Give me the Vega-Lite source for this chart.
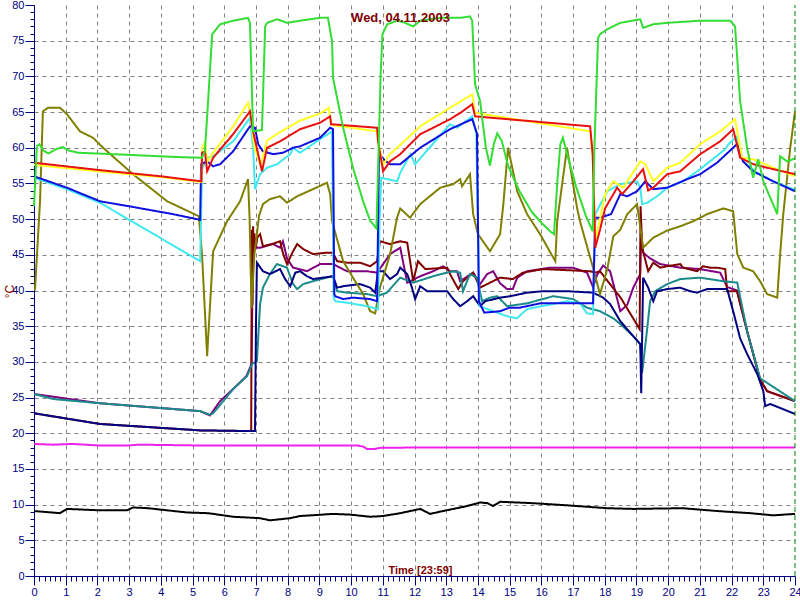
{
  "$schema": "https://vega.github.io/schema/vega-lite/v6.json",
  "width": 761,
  "height": 571,
  "autosize": "none",
  "padding": {"left": 34, "top": 5, "right": 5, "bottom": 24},
  "background": "white",
  "config": {"view": {"stroke": null}, "font": "Liberation Sans"},
  "title": {"text": "Wed, 04.11.2003", "color": "#800000", "fontSize": 13, "fontWeight": "bold", "font": "Liberation Sans", "offset": -26, "dx": -14, "anchor": "middle", "frame": "group"},
  "data": {"values": [
        {"s":"black","t":0,"v":9.1},{"s":"black","t":0.82,"v":8.8},{"s":"black","t":1.04,"v":9.4},{"s":"black","t":2.08,"v":9.2},{"s":"black","t":2.93,"v":9.2},{"s":"black","t":3.12,"v":9.6},{"s":"black","t":3.6,"v":9.5},{"s":"black","t":4.2,"v":9.2},{"s":"black","t":4.83,"v":8.9},{"s":"black","t":5.5,"v":8.8},{"s":"black","t":6.28,"v":8.3},{"s":"black","t":7.13,"v":8.1},{"s":"black","t":7.44,"v":7.8},{"s":"black","t":8.08,"v":8.1},{"s":"black","t":8.39,"v":8.4},{"s":"black","t":9.43,"v":8.7},{"s":"black","t":9.97,"v":8.6},{"s":"black","t":10.6,"v":8.3},{"s":"black","t":11.0,"v":8.4},{"s":"black","t":11.55,"v":8.8},{"s":"black","t":12.18,"v":9.4},{"s":"black","t":12.49,"v":8.7},{"s":"black","t":12.9,"v":9.1},{"s":"black","t":13.66,"v":9.8},{"s":"black","t":14.07,"v":10.3},{"s":"black","t":14.3,"v":10.2},{"s":"black","t":14.48,"v":9.8},{"s":"black","t":14.7,"v":10.4},{"s":"black","t":15.74,"v":10.2},{"s":"black","t":16.81,"v":9.9},{"s":"black","t":18.08,"v":9.5},{"s":"black","t":18.9,"v":9.4},{"s":"black","t":20.47,"v":9.5},{"s":"black","t":21.55,"v":9.1},{"s":"black","t":22.59,"v":8.8},{"s":"black","t":23.31,"v":8.5},{"s":"black","t":24,"v":8.7},

        {"s":"magenta","t":0,"v":18.5},{"s":"magenta","t":0.6,"v":18.4},{"s":"magenta","t":1.2,"v":18.5},{"s":"magenta","t":2,"v":18.3},{"s":"magenta","t":3,"v":18.3},{"s":"magenta","t":3.3,"v":18.4},{"s":"magenta","t":5,"v":18.3},{"s":"magenta","t":10.2,"v":18.3},{"s":"magenta","t":10.4,"v":18.1},{"s":"magenta","t":10.5,"v":17.8},{"s":"magenta","t":10.75,"v":17.8},{"s":"magenta","t":10.9,"v":17.95},{"s":"magenta","t":12,"v":18},{"s":"magenta","t":24,"v":18},

        {"s":"purple","t":0,"v":25.5},{"s":"purple","t":2.08,"v":24.2},{"s":"purple","t":5.24,"v":23.1},{"s":"purple","t":5.55,"v":22.5},{"s":"purple","t":5.87,"v":24.5},{"s":"purple","t":6.28,"v":26.2},{"s":"purple","t":6.7,"v":28},{"s":"purple","t":6.86,"v":29.7},{"s":"purple","t":6.9,"v":44},{"s":"purple","t":6.93,"v":47},{"s":"purple","t":7.03,"v":46},{"s":"purple","t":7.13,"v":46},{"s":"purple","t":7.54,"v":46.5},{"s":"purple","t":7.76,"v":46},{"s":"purple","t":7.85,"v":46.9},{"s":"purple","t":7.98,"v":44.5},{"s":"purple","t":8.17,"v":43.2},{"s":"purple","t":8.61,"v":42.7},{"s":"purple","t":9.02,"v":43.7},{"s":"purple","t":9.43,"v":43.7},{"s":"purple","t":9.65,"v":43.2},{"s":"purple","t":9.87,"v":42.7},{"s":"purple","t":10.5,"v":42.7},{"s":"purple","t":10.82,"v":42.5},{"s":"purple","t":11.01,"v":43.7},{"s":"purple","t":11.23,"v":45.1},{"s":"purple","t":11.55,"v":46},{"s":"purple","t":11.77,"v":41.1},{"s":"purple","t":12.18,"v":42},{"s":"purple","t":12.59,"v":42.7},{"s":"purple","t":12.9,"v":43.4},{"s":"purple","t":13.12,"v":42.7},{"s":"purple","t":13.34,"v":42.7},{"s":"purple","t":13.44,"v":41.3},{"s":"purple","t":13.85,"v":42.5},{"s":"purple","t":14.07,"v":40.9},{"s":"purple","t":14.29,"v":42.3},{"s":"purple","t":14.48,"v":42.7},{"s":"purple","t":14.7,"v":41},{"s":"purple","t":14.92,"v":40.2},{"s":"purple","t":15.1,"v":40.2},{"s":"purple","t":15.24,"v":41.8},{"s":"purple","t":15.55,"v":42.7},{"s":"purple","t":16.28,"v":43.2},{"s":"purple","t":17.0,"v":43.2},{"s":"purple","t":17.44,"v":42.5},{"s":"purple","t":17.63,"v":40.5},{"s":"purple","t":17.76,"v":42.2},{"s":"purple","t":17.95,"v":43.5},{"s":"purple","t":18.17,"v":42.7},{"s":"purple","t":18.49,"v":37.1},{"s":"purple","t":18.71,"v":38},{"s":"purple","t":18.9,"v":40.4},{"s":"purple","t":19.12,"v":42.3},{"s":"purple","t":19.15,"v":48},{"s":"purple","t":19.21,"v":45.3},{"s":"purple","t":19.43,"v":44.5},{"s":"purple","t":19.75,"v":43.7},{"s":"purple","t":20.38,"v":43.2},{"s":"purple","t":21.0,"v":43},{"s":"purple","t":21.64,"v":42.5},{"s":"purple","t":21.86,"v":40.5},{"s":"purple","t":22.17,"v":40},{"s":"purple","t":22.49,"v":34.3},{"s":"purple","t":22.9,"v":27.5},{"s":"purple","t":23.12,"v":25.9},{"s":"purple","t":24,"v":24.5},

        {"s":"maroon","t":0,"v":22.8},{"s":"maroon","t":2.08,"v":21.3},{"s":"maroon","t":5.24,"v":20.4},{"s":"maroon","t":6.85,"v":20.3},{"s":"maroon","t":6.87,"v":48.5},{"s":"maroon","t":6.89,"v":38},{"s":"maroon","t":6.91,"v":49},{"s":"maroon","t":6.93,"v":44},{"s":"maroon","t":6.95,"v":48},{"s":"maroon","t":6.99,"v":46},{"s":"maroon","t":7.05,"v":47.5},{"s":"maroon","t":7.13,"v":47.9},{"s":"maroon","t":7.22,"v":46.2},{"s":"maroon","t":7.5,"v":46.5},{"s":"maroon","t":7.76,"v":46.9},{"s":"maroon","t":7.86,"v":45.1},{"s":"maroon","t":7.98,"v":43.7},{"s":"maroon","t":8.17,"v":45.5},{"s":"maroon","t":8.3,"v":46.5},{"s":"maroon","t":8.49,"v":45.8},{"s":"maroon","t":8.8,"v":45.1},{"s":"maroon","t":9.24,"v":45.3},{"s":"maroon","t":9.43,"v":45.3},{"s":"maroon","t":9.56,"v":44.1},{"s":"maroon","t":9.87,"v":43.9},{"s":"maroon","t":10.28,"v":43.9},{"s":"maroon","t":10.6,"v":43.4},{"s":"maroon","t":10.82,"v":44.1},{"s":"maroon","t":10.91,"v":46.9},{"s":"maroon","t":11.23,"v":46.5},{"s":"maroon","t":11.55,"v":46.9},{"s":"maroon","t":11.77,"v":46.7},{"s":"maroon","t":11.96,"v":41.3},{"s":"maroon","t":12.11,"v":44.1},{"s":"maroon","t":12.34,"v":43},{"s":"maroon","t":13.03,"v":43.2},{"s":"maroon","t":13.12,"v":42.3},{"s":"maroon","t":13.38,"v":40.2},{"s":"maroon","t":13.53,"v":41.3},{"s":"maroon","t":13.85,"v":42.5},{"s":"maroon","t":14.07,"v":40.4},{"s":"maroon","t":14.7,"v":41.8},{"s":"maroon","t":15.1,"v":41.6},{"s":"maroon","t":15.42,"v":42.5},{"s":"maroon","t":16.06,"v":43},{"s":"maroon","t":17.54,"v":42.7},{"s":"maroon","t":17.7,"v":42.5},{"s":"maroon","t":17.85,"v":42.7},{"s":"maroon","t":18.5,"v":39},{"s":"maroon","t":19.1,"v":34.6},{"s":"maroon","t":19.13,"v":51.8},{"s":"maroon","t":19.18,"v":46},{"s":"maroon","t":19.37,"v":42.7},{"s":"maroon","t":19.53,"v":43.9},{"s":"maroon","t":19.75,"v":43.2},{"s":"maroon","t":19.97,"v":43.4},{"s":"maroon","t":20.38,"v":43.7},{"s":"maroon","t":20.47,"v":43.2},{"s":"maroon","t":20.91,"v":42.7},{"s":"maroon","t":21.1,"v":43.4},{"s":"maroon","t":21.33,"v":43.2},{"s":"maroon","t":21.54,"v":43.2},{"s":"maroon","t":21.8,"v":43},{"s":"maroon","t":21.86,"v":39.9},{"s":"maroon","t":22.17,"v":39.9},{"s":"maroon","t":22.49,"v":34.3},{"s":"maroon","t":22.9,"v":27.5},{"s":"maroon","t":23.12,"v":25.9},{"s":"maroon","t":24,"v":24.5},

        {"s":"teal","t":0,"v":25.5},{"s":"teal","t":0.6,"v":24.8},{"s":"teal","t":2.08,"v":24.2},{"s":"teal","t":5.24,"v":23.1},{"s":"teal","t":5.55,"v":22.6},{"s":"teal","t":5.65,"v":22.8},{"s":"teal","t":5.97,"v":24.5},{"s":"teal","t":6.28,"v":26.2},{"s":"teal","t":6.72,"v":28},{"s":"teal","t":6.88,"v":29.7},{"s":"teal","t":7.03,"v":30.1},{"s":"teal","t":7.13,"v":38.1},{"s":"teal","t":7.22,"v":40.4},{"s":"teal","t":7.44,"v":42.3},{"s":"teal","t":7.66,"v":43.7},{"s":"teal","t":7.85,"v":43.4},{"s":"teal","t":7.98,"v":43.2},{"s":"teal","t":8.17,"v":40.9},{"s":"teal","t":8.3,"v":40.2},{"s":"teal","t":8.49,"v":40.9},{"s":"teal","t":8.8,"v":41.3},{"s":"teal","t":9.24,"v":41.8},{"s":"teal","t":9.43,"v":42},{"s":"teal","t":9.56,"v":39.9},{"s":"teal","t":9.87,"v":39.7},{"s":"teal","t":10.5,"v":39.5},{"s":"teal","t":10.82,"v":39.2},{"s":"teal","t":11.13,"v":39.7},{"s":"teal","t":11.55,"v":41.8},{"s":"teal","t":11.96,"v":41.1},{"s":"teal","t":12.59,"v":42},{"s":"teal","t":13.03,"v":42.5},{"s":"teal","t":13.22,"v":42.7},{"s":"teal","t":13.44,"v":42.5},{"s":"teal","t":13.53,"v":39.9},{"s":"teal","t":13.75,"v":42.3},{"s":"teal","t":13.97,"v":41.8},{"s":"teal","t":14.13,"v":38.5},{"s":"teal","t":14.38,"v":39},{"s":"teal","t":14.61,"v":39.2},{"s":"teal","t":14.92,"v":37.8},{"s":"teal","t":15.55,"v":38.2},{"s":"teal","t":16.37,"v":39.2},{"s":"teal","t":17.0,"v":38.8},{"s":"teal","t":17.44,"v":37.6},{"s":"teal","t":17.85,"v":37.1},{"s":"teal","t":18.27,"v":36.1},{"s":"teal","t":18.49,"v":35.3},{"s":"teal","t":18.9,"v":33.6},{"s":"teal","t":19.12,"v":32.5},{"s":"teal","t":19.18,"v":28.5},{"s":"teal","t":19.34,"v":34.7},{"s":"teal","t":19.43,"v":38.5},{"s":"teal","t":19.59,"v":39.9},{"s":"teal","t":19.97,"v":40.9},{"s":"teal","t":20.38,"v":41.6},{"s":"teal","t":21.01,"v":41.8},{"s":"teal","t":21.74,"v":41.3},{"s":"teal","t":22.18,"v":41.1},{"s":"teal","t":22.49,"v":34.3},{"s":"teal","t":22.9,"v":27.7},{"s":"teal","t":24,"v":24.5},

        {"s":"navy","t":0,"v":22.8},{"s":"navy","t":2.08,"v":21.3},{"s":"navy","t":5.24,"v":20.4},{"s":"navy","t":6.97,"v":20.3},{"s":"navy","t":7.0,"v":35},{"s":"navy","t":7.03,"v":43.9},{"s":"navy","t":7.22,"v":42.7},{"s":"navy","t":7.44,"v":42.3},{"s":"navy","t":7.76,"v":43},{"s":"navy","t":7.92,"v":41.6},{"s":"navy","t":8.08,"v":40.6},{"s":"navy","t":8.24,"v":42.5},{"s":"navy","t":8.39,"v":42.7},{"s":"navy","t":8.61,"v":42},{"s":"navy","t":8.8,"v":41.6},{"s":"navy","t":9.43,"v":42},{"s":"navy","t":9.56,"v":40.4},{"s":"navy","t":9.75,"v":40.6},{"s":"navy","t":10.28,"v":40.9},{"s":"navy","t":10.6,"v":40.4},{"s":"navy","t":10.76,"v":39.7},{"s":"navy","t":10.85,"v":42.7},{"s":"navy","t":11.01,"v":42.7},{"s":"navy","t":11.23,"v":41.6},{"s":"navy","t":11.45,"v":42.3},{"s":"navy","t":11.55,"v":43.2},{"s":"navy","t":11.77,"v":42.3},{"s":"navy","t":11.92,"v":40.4},{"s":"navy","t":12.02,"v":38.8},{"s":"navy","t":12.18,"v":40.6},{"s":"navy","t":12.4,"v":39.9},{"s":"navy","t":13.03,"v":39.9},{"s":"navy","t":13.22,"v":38.8},{"s":"navy","t":13.44,"v":37.8},{"s":"navy","t":13.66,"v":38.5},{"s":"navy","t":13.85,"v":39.2},{"s":"navy","t":14.07,"v":37.8},{"s":"navy","t":14.23,"v":38.5},{"s":"navy","t":14.7,"v":39},{"s":"navy","t":15.02,"v":39.2},{"s":"navy","t":15.55,"v":39.7},{"s":"navy","t":16.06,"v":39.9},{"s":"navy","t":16.81,"v":39.9},{"s":"navy","t":17.63,"v":39.7},{"s":"navy","t":17.95,"v":39},{"s":"navy","t":18.17,"v":38.1},{"s":"navy","t":18.49,"v":35.7},{"s":"navy","t":18.9,"v":33.6},{"s":"navy","t":19.12,"v":32.5},{"s":"navy","t":19.15,"v":25.6},{"s":"navy","t":19.21,"v":41.8},{"s":"navy","t":19.37,"v":40.4},{"s":"navy","t":19.53,"v":38.5},{"s":"navy","t":19.65,"v":39.9},{"s":"navy","t":19.97,"v":40.2},{"s":"navy","t":20.38,"v":40.4},{"s":"navy","t":20.69,"v":39.9},{"s":"navy","t":20.91,"v":39.7},{"s":"navy","t":21.23,"v":40.2},{"s":"navy","t":21.54,"v":40.2},{"s":"navy","t":21.86,"v":40.2},{"s":"navy","t":22.05,"v":37.1},{"s":"navy","t":22.27,"v":33.3},{"s":"navy","t":22.49,"v":31.1},{"s":"navy","t":22.81,"v":28.3},{"s":"navy","t":23.0,"v":25.9},{"s":"navy","t":23.06,"v":23.8},{"s":"navy","t":23.22,"v":24.1},{"s":"navy","t":24,"v":22.7},

        {"s":"olive","t":0.03,"v":40},{"s":"olive","t":0.19,"v":52.5},{"s":"olive","t":0.28,"v":65.1},{"s":"olive","t":0.44,"v":65.6},{"s":"olive","t":0.82,"v":65.6},{"s":"olive","t":1.04,"v":64.7},{"s":"olive","t":1.45,"v":62.3},{"s":"olive","t":1.86,"v":61.4},{"s":"olive","t":2.18,"v":60},{"s":"olive","t":3.12,"v":56.3},{"s":"olive","t":4.2,"v":52.5},{"s":"olive","t":5.2,"v":50.4},{"s":"olive","t":5.3,"v":45},{"s":"olive","t":5.46,"v":30.8},{"s":"olive","t":5.65,"v":45.5},{"s":"olive","t":6.09,"v":49.7},{"s":"olive","t":6.5,"v":52.5},{"s":"olive","t":6.75,"v":55.6},{"s":"olive","t":6.8,"v":50},{"s":"olive","t":6.86,"v":37.5},{"s":"olive","t":6.95,"v":45},{"s":"olive","t":7.1,"v":50.5},{"s":"olive","t":7.22,"v":52.1},{"s":"olive","t":7.44,"v":52.8},{"s":"olive","t":7.76,"v":53.2},{"s":"olive","t":7.98,"v":52.3},{"s":"olive","t":8.3,"v":53.2},{"s":"olive","t":8.8,"v":54.2},{"s":"olive","t":9.24,"v":55.1},{"s":"olive","t":9.34,"v":53.5},{"s":"olive","t":9.4,"v":49.7},{"s":"olive","t":9.75,"v":44.1},{"s":"olive","t":10.06,"v":41.8},{"s":"olive","t":10.38,"v":39.5},{"s":"olive","t":10.6,"v":37.1},{"s":"olive","t":10.76,"v":36.8},{"s":"olive","t":10.91,"v":40.4},{"s":"olive","t":11.23,"v":45.1},{"s":"olive","t":11.45,"v":50.2},{"s":"olive","t":11.55,"v":51.5},{"s":"olive","t":11.86,"v":50.2},{"s":"olive","t":12.18,"v":52.1},{"s":"olive","t":12.81,"v":54.4},{"s":"olive","t":13.22,"v":54.9},{"s":"olive","t":13.44,"v":55.6},{"s":"olive","t":13.5,"v":54.6},{"s":"olive","t":13.75,"v":56.3},{"s":"olive","t":13.85,"v":50.7},{"s":"olive","t":14.0,"v":47.9},{"s":"olive","t":14.38,"v":45.5},{"s":"olive","t":14.7,"v":47.9},{"s":"olive","t":14.8,"v":52},{"s":"olive","t":14.95,"v":60},{"s":"olive","t":15.24,"v":53.9},{"s":"olive","t":15.55,"v":50.7},{"s":"olive","t":15.96,"v":47.9},{"s":"olive","t":16.44,"v":44.1},{"s":"olive","t":16.5,"v":49.7},{"s":"olive","t":16.81,"v":60},{"s":"olive","t":17.13,"v":51.5},{"s":"olive","t":17.22,"v":49.7},{"s":"olive","t":17.63,"v":43.2},{"s":"olive","t":17.85,"v":39.5},{"s":"olive","t":18.08,"v":43},{"s":"olive","t":18.27,"v":47.6},{"s":"olive","t":18.49,"v":48.5},{"s":"olive","t":18.71,"v":50.7},{"s":"olive","t":19.02,"v":52.1},{"s":"olive","t":19.21,"v":46},{"s":"olive","t":19.53,"v":47.4},{"s":"olive","t":19.97,"v":48.4},{"s":"olive","t":20.38,"v":49},{"s":"olive","t":20.79,"v":49.7},{"s":"olive","t":21.23,"v":50.7},{"s":"olive","t":21.74,"v":51.5},{"s":"olive","t":22.05,"v":51.1},{"s":"olive","t":22.18,"v":45.1},{"s":"olive","t":22.37,"v":43.2},{"s":"olive","t":22.68,"v":42.7},{"s":"olive","t":22.9,"v":41.3},{"s":"olive","t":23.12,"v":39.5},{"s":"olive","t":23.44,"v":39},{"s":"olive","t":23.53,"v":45},{"s":"olive","t":23.63,"v":50.7},{"s":"olive","t":23.85,"v":60},{"s":"olive","t":24,"v":65.1},

        {"s":"cyan","t":0,"v":55.8},{"s":"cyan","t":1.04,"v":54.2},{"s":"cyan","t":2.08,"v":52.3},{"s":"cyan","t":5.24,"v":44.1},{"s":"cyan","t":5.3,"v":57},{"s":"cyan","t":5.46,"v":58.6},{"s":"cyan","t":5.65,"v":58.8},{"s":"cyan","t":6.28,"v":60.9},{"s":"cyan","t":6.81,"v":64.2},{"s":"cyan","t":6.91,"v":60},{"s":"cyan","t":6.97,"v":54.2},{"s":"cyan","t":7.13,"v":56.3},{"s":"cyan","t":7.35,"v":57.2},{"s":"cyan","t":7.67,"v":57.7},{"s":"cyan","t":8.08,"v":59.1},{"s":"cyan","t":8.17,"v":60},{"s":"cyan","t":8.39,"v":59.3},{"s":"cyan","t":9.02,"v":61.2},{"s":"cyan","t":9.4,"v":62.3},{"s":"cyan","t":9.45,"v":39},{"s":"cyan","t":9.5,"v":38.5},{"s":"cyan","t":10.0,"v":38.2},{"s":"cyan","t":10.5,"v":37.8},{"s":"cyan","t":10.85,"v":37.4},{"s":"cyan","t":10.9,"v":50},{"s":"cyan","t":10.95,"v":55.8},{"s":"cyan","t":11.45,"v":55.3},{"s":"cyan","t":11.55,"v":56.5},{"s":"cyan","t":11.87,"v":59.1},{"s":"cyan","t":12.02,"v":57.7},{"s":"cyan","t":13.12,"v":63.3},{"s":"cyan","t":13.34,"v":62.8},{"s":"cyan","t":13.82,"v":64.4},{"s":"cyan","t":13.95,"v":62},{"s":"cyan","t":14.05,"v":37.8},{"s":"cyan","t":14.92,"v":36.4},{"s":"cyan","t":15.23,"v":36.1},{"s":"cyan","t":15.55,"v":37.4},{"s":"cyan","t":16.81,"v":38.5},{"s":"cyan","t":17.22,"v":38.2},{"s":"cyan","t":17.44,"v":36.8},{"s":"cyan","t":17.63,"v":36.7},{"s":"cyan","t":17.7,"v":50.7},{"s":"cyan","t":18.08,"v":53.9},{"s":"cyan","t":18.49,"v":54.9},{"s":"cyan","t":19.02,"v":55.3},{"s":"cyan","t":19.12,"v":54.4},{"s":"cyan","t":19.18,"v":52.1},{"s":"cyan","t":19.34,"v":52.3},{"s":"cyan","t":19.65,"v":53.2},{"s":"cyan","t":19.97,"v":54.4},{"s":"cyan","t":20.47,"v":55.3},{"s":"cyan","t":21.01,"v":57},{"s":"cyan","t":21.8,"v":59.8},{"s":"cyan","t":21.9,"v":60.5},{"s":"cyan","t":22.17,"v":61.6},{"s":"cyan","t":22.36,"v":58.1},{"s":"cyan","t":22.8,"v":56.5},{"s":"cyan","t":23.31,"v":55.3},{"s":"cyan","t":24,"v":54.1},

        {"s":"blue","t":0,"v":56},{"s":"blue","t":1.04,"v":54.4},{"s":"blue","t":2.08,"v":52.5},{"s":"blue","t":3,"v":51.8},{"s":"blue","t":4.38,"v":50.7},{"s":"blue","t":5.24,"v":49.9},{"s":"blue","t":5.27,"v":57.7},{"s":"blue","t":5.46,"v":58.1},{"s":"blue","t":5.65,"v":57.4},{"s":"blue","t":5.87,"v":57.7},{"s":"blue","t":6.28,"v":59.5},{"s":"blue","t":6.81,"v":63},{"s":"blue","t":6.97,"v":62.8},{"s":"blue","t":7.07,"v":60.5},{"s":"blue","t":7.22,"v":59.5},{"s":"blue","t":7.54,"v":59.1},{"s":"blue","t":7.85,"v":59.3},{"s":"blue","t":8.17,"v":60},{"s":"blue","t":8.39,"v":60.2},{"s":"blue","t":9.02,"v":61.4},{"s":"blue","t":9.34,"v":62.8},{"s":"blue","t":9.43,"v":62.6},{"s":"blue","t":9.47,"v":39.5},{"s":"blue","t":9.5,"v":39.2},{"s":"blue","t":9.75,"v":38.8},{"s":"blue","t":10.06,"v":39},{"s":"blue","t":10.6,"v":38.8},{"s":"blue","t":10.82,"v":38.5},{"s":"blue","t":10.88,"v":59.1},{"s":"blue","t":11.1,"v":58.1},{"s":"blue","t":11.23,"v":57.7},{"s":"blue","t":11.55,"v":57.7},{"s":"blue","t":12.18,"v":60},{"s":"blue","t":13.12,"v":62.6},{"s":"blue","t":13.82,"v":64},{"s":"blue","t":13.97,"v":62},{"s":"blue","t":14.03,"v":38.5},{"s":"blue","t":14.2,"v":36.9},{"s":"blue","t":14.7,"v":37.1},{"s":"blue","t":15.0,"v":37.6},{"s":"blue","t":15.33,"v":37.6},{"s":"blue","t":15.96,"v":38.2},{"s":"blue","t":17.63,"v":38.2},{"s":"blue","t":17.7,"v":50.2},{"s":"blue","t":17.85,"v":50.2},{"s":"blue","t":18.2,"v":50.7},{"s":"blue","t":18.49,"v":53.5},{"s":"blue","t":18.71,"v":53.2},{"s":"blue","t":19.02,"v":53.9},{"s":"blue","t":19.28,"v":55.3},{"s":"blue","t":19.53,"v":54.2},{"s":"blue","t":19.97,"v":54.4},{"s":"blue","t":20.6,"v":55.6},{"s":"blue","t":21.01,"v":56.3},{"s":"blue","t":21.54,"v":57.9},{"s":"blue","t":22.17,"v":60.5},{"s":"blue","t":22.36,"v":58.1},{"s":"blue","t":22.68,"v":56.7},{"s":"blue","t":23.31,"v":55.3},{"s":"blue","t":24,"v":53.9},

        {"s":"yellow","t":0,"v":57.6},{"s":"yellow","t":2,"v":56.7},{"s":"yellow","t":4,"v":55.9},{"s":"yellow","t":5.28,"v":55.2},{"s":"yellow","t":5.3,"v":60},{"s":"yellow","t":5.39,"v":60.7},{"s":"yellow","t":5.46,"v":58},{"s":"yellow","t":5.6,"v":59},{"s":"yellow","t":6.28,"v":63},{"s":"yellow","t":6.75,"v":66.3},{"s":"yellow","t":6.85,"v":64},{"s":"yellow","t":6.95,"v":60},{"s":"yellow","t":7.15,"v":57.5},{"s":"yellow","t":7.35,"v":61},{"s":"yellow","t":7.76,"v":62.2},{"s":"yellow","t":8.39,"v":63.8},{"s":"yellow","t":9.02,"v":64.8},{"s":"yellow","t":9.3,"v":65.6},{"s":"yellow","t":9.37,"v":63.2},{"s":"yellow","t":10.82,"v":62.3},{"s":"yellow","t":10.85,"v":61},{"s":"yellow","t":11.0,"v":57.5},{"s":"yellow","t":11.2,"v":59},{"s":"yellow","t":11.55,"v":60.4},{"s":"yellow","t":12.18,"v":63},{"s":"yellow","t":13.12,"v":65.6},{"s":"yellow","t":13.82,"v":67.5},{"s":"yellow","t":13.91,"v":64.9},{"s":"yellow","t":17.54,"v":62.3},{"s":"yellow","t":17.62,"v":59.1},{"s":"yellow","t":17.7,"v":47},{"s":"yellow","t":17.85,"v":50},{"s":"yellow","t":18.01,"v":53.5},{"s":"yellow","t":18.27,"v":55.3},{"s":"yellow","t":18.58,"v":54.4},{"s":"yellow","t":19.12,"v":58.1},{"s":"yellow","t":19.28,"v":57.7},{"s":"yellow","t":19.53,"v":55.3},{"s":"yellow","t":19.97,"v":57.2},{"s":"yellow","t":20.38,"v":57.9},{"s":"yellow","t":21.01,"v":60.5},{"s":"yellow","t":21.64,"v":62.3},{"s":"yellow","t":22.11,"v":64},{"s":"yellow","t":22.33,"v":58.6},{"s":"yellow","t":22.68,"v":58.4},{"s":"yellow","t":23.31,"v":57.2},{"s":"yellow","t":24,"v":56},

        {"s":"red","t":0,"v":57.9},{"s":"red","t":2,"v":56.9},{"s":"red","t":4,"v":56},{"s":"red","t":5.28,"v":55.3},{"s":"red","t":5.3,"v":59.3},{"s":"red","t":5.39,"v":59.5},{"s":"red","t":5.46,"v":56.7},{"s":"red","t":5.65,"v":58.6},{"s":"red","t":6.28,"v":61.9},{"s":"red","t":6.81,"v":65.1},{"s":"red","t":6.91,"v":62.3},{"s":"red","t":7.19,"v":56.7},{"s":"red","t":7.35,"v":60},{"s":"red","t":7.76,"v":60.9},{"s":"red","t":8.39,"v":62.6},{"s":"red","t":9.02,"v":63.5},{"s":"red","t":9.34,"v":64.4},{"s":"red","t":9.37,"v":63.3},{"s":"red","t":10.82,"v":62.8},{"s":"red","t":10.85,"v":60.9},{"s":"red","t":11.01,"v":56.7},{"s":"red","t":11.23,"v":58.1},{"s":"red","t":11.55,"v":59.1},{"s":"red","t":12.18,"v":61.9},{"s":"red","t":12.5,"v":62.6},{"s":"red","t":13.12,"v":64},{"s":"red","t":13.45,"v":64.9},{"s":"red","t":13.82,"v":66.1},{"s":"red","t":13.91,"v":64.4},{"s":"red","t":17.54,"v":63},{"s":"red","t":17.62,"v":59},{"s":"red","t":17.7,"v":46},{"s":"red","t":17.85,"v":48.5},{"s":"red","t":18.01,"v":51.5},{"s":"red","t":18.39,"v":54.4},{"s":"red","t":18.55,"v":53.5},{"s":"red","t":18.9,"v":55.3},{"s":"red","t":19.21,"v":57},{"s":"red","t":19.37,"v":54},{"s":"red","t":19.53,"v":54.4},{"s":"red","t":19.97,"v":56.3},{"s":"red","t":20.38,"v":56.7},{"s":"red","t":21.01,"v":59.1},{"s":"red","t":21.64,"v":60.9},{"s":"red","t":22.05,"v":62.6},{"s":"red","t":22.27,"v":58.6},{"s":"red","t":22.68,"v":57.7},{"s":"red","t":23.31,"v":57},{"s":"red","t":24,"v":56.3},

        {"s":"green","t":0,"v":51.8},{"s":"green","t":0.09,"v":60.2},{"s":"green","t":0.17,"v":60.5},{"s":"green","t":0.3,"v":59.6},{"s":"green","t":0.45,"v":59.2},{"s":"green","t":0.7,"v":59.8},{"s":"green","t":0.9,"v":60.1},{"s":"green","t":1.1,"v":59.6},{"s":"green","t":1.4,"v":59.3},{"s":"green","t":2.5,"v":59.1},{"s":"green","t":3.5,"v":58.9},{"s":"green","t":4.5,"v":58.7},{"s":"green","t":5.3,"v":58.6},{"s":"green","t":5.39,"v":59.5},{"s":"green","t":5.49,"v":66.5},{"s":"green","t":5.62,"v":75.9},{"s":"green","t":5.87,"v":77.3},{"s":"green","t":6.28,"v":77.8},{"s":"green","t":6.75,"v":78.2},{"s":"green","t":6.81,"v":77.5},{"s":"green","t":6.91,"v":62.3},{"s":"green","t":7.19,"v":62.5},{"s":"green","t":7.29,"v":77},{"s":"green","t":7.35,"v":77.5},{"s":"green","t":7.67,"v":78},{"s":"green","t":7.98,"v":77.5},{"s":"green","t":8.39,"v":77.8},{"s":"green","t":9.02,"v":78.2},{"s":"green","t":9.27,"v":78.2},{"s":"green","t":9.4,"v":74.9},{"s":"green","t":9.43,"v":69.8},{"s":"green","t":9.75,"v":62.8},{"s":"green","t":10.06,"v":57.2},{"s":"green","t":10.38,"v":52.5},{"s":"green","t":10.6,"v":49.8},{"s":"green","t":10.8,"v":48.7},{"s":"green","t":10.87,"v":60},{"s":"green","t":10.93,"v":70},{"s":"green","t":10.99,"v":75.9},{"s":"green","t":11.14,"v":77.3},{"s":"green","t":11.45,"v":77.8},{"s":"green","t":11.7,"v":77.5},{"s":"green","t":11.96,"v":77},{"s":"green","t":12.18,"v":77.8},{"s":"green","t":12.81,"v":78.2},{"s":"green","t":13.44,"v":78.2},{"s":"green","t":13.75,"v":78.4},{"s":"green","t":13.82,"v":77.8},{"s":"green","t":13.91,"v":68.9},{"s":"green","t":14.07,"v":66.5},{"s":"green","t":14.25,"v":60},{"s":"green","t":14.38,"v":57.5},{"s":"green","t":14.5,"v":60.5},{"s":"green","t":14.61,"v":62},{"s":"green","t":14.75,"v":61},{"s":"green","t":14.95,"v":57.5},{"s":"green","t":15.3,"v":54},{"s":"green","t":15.7,"v":51},{"s":"green","t":16.0,"v":49.5},{"s":"green","t":16.3,"v":48.2},{"s":"green","t":16.4,"v":47.9},{"s":"green","t":16.5,"v":55},{"s":"green","t":16.6,"v":60.5},{"s":"green","t":16.68,"v":61.4},{"s":"green","t":16.85,"v":58.5},{"s":"green","t":17.1,"v":54.5},{"s":"green","t":17.4,"v":50.5},{"s":"green","t":17.62,"v":48.3},{"s":"green","t":17.67,"v":59.5},{"s":"green","t":17.79,"v":75.4},{"s":"green","t":17.85,"v":75.9},{"s":"green","t":18.08,"v":76.6},{"s":"green","t":18.49,"v":77.5},{"s":"green","t":19.12,"v":78},{"s":"green","t":19.21,"v":76.8},{"s":"green","t":19.53,"v":77.3},{"s":"green","t":19.97,"v":77.5},{"s":"green","t":21.01,"v":77.8},{"s":"green","t":21.96,"v":77.8},{"s":"green","t":22.11,"v":77},{"s":"green","t":22.27,"v":66.5},{"s":"green","t":22.49,"v":60},{"s":"green","t":22.68,"v":55.8},{"s":"green","t":22.84,"v":58.4},{"s":"green","t":23.0,"v":55.3},{"s":"green","t":23.44,"v":50.7},{"s":"green","t":23.53,"v":58.8},{"s":"green","t":23.75,"v":58.1},{"s":"green","t":23.94,"v":58.4},{"s":"green","t":24,"v":58.5},

        {"s":"now","t":24,"v":0},{"s":"now","t":24,"v":80}
  ]},
  "mark": {"type": "line"},
  "encoding": {
    "x": {
      "field": "t", "type": "quantitative",
      "scale": {"domain": [0, 24], "nice": false, "zero": false},
      "axis": {
        "values": [0,0.1667,0.3333,0.5,0.6667,0.8333,1,1.1667,1.3333,1.5,1.6667,1.8333,2,2.1667,2.3333,2.5,2.6667,2.8333,3,3.1667,3.3333,3.5,3.6667,3.8333,4,4.1667,4.3333,4.5,4.6667,4.8333,5,5.1667,5.3333,5.5,5.6667,5.8333,6,6.1667,6.3333,6.5,6.6667,6.8333,7,7.1667,7.3333,7.5,7.6667,7.8333,8,8.1667,8.3333,8.5,8.6667,8.8333,9,9.1667,9.3333,9.5,9.6667,9.8333,10,10.1667,10.3333,10.5,10.6667,10.8333,11,11.1667,11.3333,11.5,11.6667,11.8333,12,12.1667,12.3333,12.5,12.6667,12.8333,13,13.1667,13.3333,13.5,13.6667,13.8333,14,14.1667,14.3333,14.5,14.6667,14.8333,15,15.1667,15.3333,15.5,15.6667,15.8333,16,16.1667,16.3333,16.5,16.6667,16.8333,17,17.1667,17.3333,17.5,17.6667,17.8333,18,18.1667,18.3333,18.5,18.6667,18.8333,19,19.1667,19.3333,19.5,19.6667,19.8333,20,20.1667,20.3333,20.5,20.6667,20.8333,21,21.1667,21.3333,21.5,21.6667,21.8333,22,22.1667,22.3333,22.5,22.6667,22.8333,23,23.1667,23.3333,23.5,23.6667,23.8333,24],
        "labelExpr": "abs(datum.value - round(datum.value)) < 0.01 ? format(round(datum.value), 'd') : ''",
        "tickSize": {"condition": {"test": "abs(datum.value - round(datum.value)) < 0.01", "value": 9}, "value": 5},
        "grid": true,
        "gridOpacity": {"condition": {"test": "abs(datum.value - round(datum.value)) < 0.01 && datum.value < 23.9", "value": 1}, "value": 0},
        "gridDash": [4, 4], "gridColor": "#808080", "gridWidth": 1,
        "tickColor": "#000080", "domainColor": "#000080",
        "labelColor": "#000080", "labelFontSize": 11, "labelFont": "Liberation Sans", "labelPadding": 1,
        "labelFlush": false, "labelOverlap": false, "labelBound": false,
        "title": "Time [23:59]", "titleColor": "#800000", "titleFontWeight": "bold", "titleFontSize": 11, "titleFont": "Liberation Sans",
        "titleX": 386, "titleY": -6, "titleBaseline": "middle", "titleAlign": "center"
      }
    },
    "y": {
      "field": "v", "type": "quantitative",
      "scale": {"domain": [0, 80], "nice": false},
      "axis": {
        "values": [0,1,2,3,4,5,6,7,8,9,10,11,12,13,14,15,16,17,18,19,20,21,22,23,24,25,26,27,28,29,30,31,32,33,34,35,36,37,38,39,40,41,42,43,44,45,46,47,48,49,50,51,52,53,54,55,56,57,58,59,60,61,62,63,64,65,66,67,68,69,70,71,72,73,74,75,76,77,78,79,80],
        "labelExpr": "datum.value % 5 === 0 ? datum.label : ''",
        "tickSize": {"condition": {"test": "datum.value % 5 === 0", "value": 9}, "value": 4},
        "grid": true,
        "gridOpacity": {"condition": {"test": "datum.value % 5 === 0 && datum.value > 0 && datum.value < 80", "value": 1}, "value": 0},
        "gridDash": [4, 4], "gridColor": "#808080", "gridWidth": 1,
        "tickColor": "#000080", "domainColor": "#000080",
        "labelColor": "#000080", "labelFontSize": 11, "labelFont": "Liberation Sans", "labelPadding": 1,
        "labelOverlap": false, "labelBound": false, "labelFlush": false,
        "title": "°C", "titleColor": "#800000", "titleFontSize": 12, "titleFontWeight": "normal", "titleFont": "Liberation Sans",
        "titleX": -25, "titleY": 286, "titleAngle": 270, "titleBaseline": "middle", "titleAlign": "center"
      }
    },
    "color": {
      "field": "s", "type": "nominal",
      "scale": {
        "domain": ["black","magenta","purple","maroon","teal","navy","olive","cyan","blue","yellow","red","green","now"],
        "range": ["#000000","#ee22ee","#800080","#800000","#1a8a8a","#000080","#808000","#40e8f0","#1010e0","#ffff20","#e81010","#33dd33","#008000"]
      },
      "legend": null
    },
    "strokeWidth": {"condition": {"test": "datum.s === 'now'", "value": 1}, "value": 2},
    "strokeDash": {"condition": {"test": "datum.s === 'now'", "value": [5, 3]}, "value": [1, 0]}
  }
}
